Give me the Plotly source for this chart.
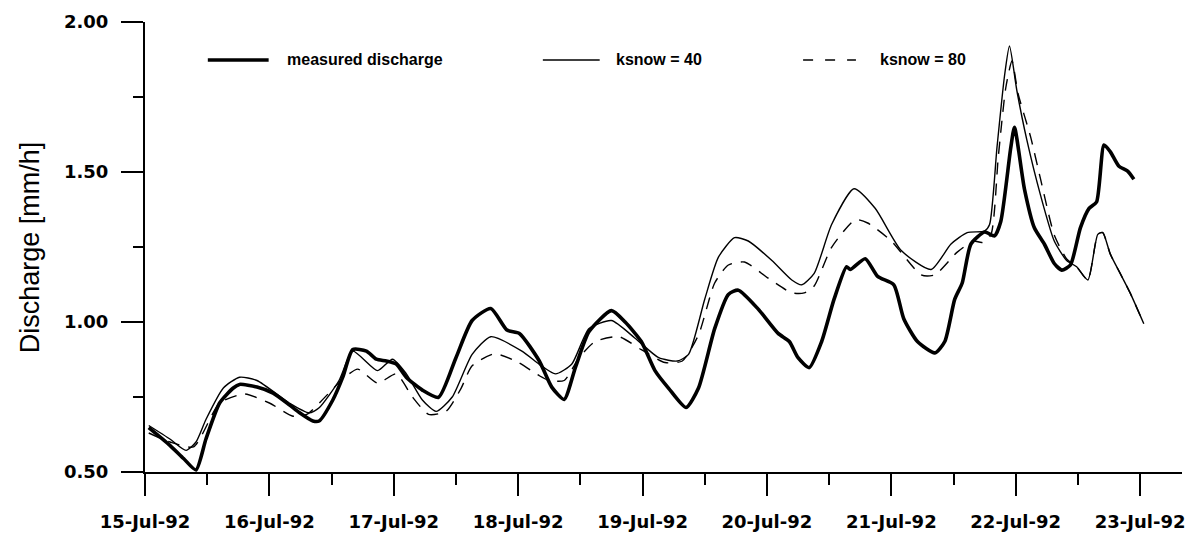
import pandas as pd
import plotly.graph_objects as go

# Discharge series, time in days after 15-Jul-92 00:00, discharge in mm/h
t_measured = [0.03, 0.20, 0.31, 0.41, 0.49, 0.60, 0.71, 0.76, 0.90, 1.03, 1.16, 1.24, 1.35, 1.40,
              1.51, 1.59, 1.67, 1.78, 1.86, 1.94, 2.02, 2.10, 2.23, 2.36, 2.50, 2.63, 2.78, 2.91,
              3.01, 3.17, 3.27, 3.37, 3.46, 3.57, 3.75, 3.86, 3.99, 4.10, 4.21, 4.35, 4.45, 4.58,
              4.69, 4.77, 4.93, 5.09, 5.18, 5.25, 5.34, 5.44, 5.54, 5.64, 5.67, 5.79, 5.89, 6.02,
              6.10, 6.21, 6.35, 6.43, 6.51, 6.57, 6.64, 6.75, 6.83, 6.88, 6.96, 6.99, 7.07, 7.15,
              7.23, 7.31, 7.37, 7.44, 7.52, 7.59, 7.65, 7.71, 7.76, 7.83, 7.90, 7.95]
q_measured = [0.648, 0.589, 0.545, 0.507, 0.610, 0.730, 0.780, 0.792, 0.783, 0.763, 0.724, 0.698,
              0.670, 0.670, 0.740, 0.816, 0.908, 0.903, 0.876, 0.870, 0.860, 0.816, 0.773, 0.749,
              0.881, 1.005, 1.045, 0.973, 0.962, 0.870, 0.783, 0.742, 0.848, 0.968, 1.038, 1.000,
              0.935, 0.838, 0.779, 0.715, 0.780, 0.978, 1.092, 1.106, 1.043, 0.962, 0.935, 0.881,
              0.848, 0.935, 1.076, 1.184, 1.175, 1.211, 1.152, 1.124, 1.011, 0.935, 0.897, 0.935,
              1.076, 1.130, 1.260, 1.300, 1.287, 1.335, 1.580, 1.649, 1.444, 1.314, 1.260, 1.195,
              1.173, 1.190, 1.314, 1.379, 1.400, 1.590, 1.568, 1.519, 1.503, 1.476]

t_ksnow40 = [0.03, 0.20, 0.33, 0.41, 0.49, 0.63, 0.76, 0.90, 1.16, 1.32, 1.40, 1.56, 1.67, 1.87,
             1.99, 2.10, 2.23, 2.34, 2.47, 2.63, 2.78, 3.03, 3.17, 3.30, 3.43, 3.57, 3.75, 3.94,
             4.13, 4.28, 4.37, 4.50, 4.61, 4.74, 4.85, 5.04, 5.20, 5.28, 5.38, 5.52, 5.70, 5.87,
             6.08, 6.32, 6.48, 6.61, 6.75, 6.79, 6.85, 6.91, 6.95, 7.01, 7.09, 7.20, 7.31, 7.41,
             7.49, 7.58, 7.66, 7.70, 7.76, 7.84, 7.92, 8.03]
q_ksnow40 = [0.655, 0.610, 0.572, 0.600, 0.675, 0.780, 0.816, 0.805, 0.730, 0.697, 0.714, 0.805,
             0.903, 0.838, 0.876, 0.828, 0.740, 0.702, 0.750, 0.892, 0.951, 0.903, 0.859, 0.827,
             0.859, 0.978, 1.005, 0.946, 0.881, 0.870, 0.892, 1.076, 1.216, 1.281, 1.270, 1.205,
             1.140, 1.124, 1.162, 1.325, 1.444, 1.379, 1.238, 1.175, 1.260, 1.298, 1.303, 1.325,
             1.584, 1.820, 1.920, 1.770, 1.606, 1.422, 1.270, 1.205, 1.184, 1.140, 1.292, 1.298,
             1.227, 1.162, 1.097, 0.994]

t_ksnow80 = [0.03, 0.20, 0.39, 0.60, 0.80, 1.00, 1.19, 1.30, 1.59, 1.71, 1.87, 2.02, 2.15, 2.28,
             2.42, 2.54, 2.63, 2.81, 2.99, 3.17, 3.25, 3.37, 3.49, 3.62, 3.81, 3.99, 4.18, 4.32,
             4.45, 4.58, 4.69, 4.82, 5.01, 5.20, 5.30, 5.38, 5.52, 5.71, 5.81, 6.00, 6.24, 6.35,
             6.53, 6.66, 6.73, 6.80, 6.86, 6.92, 6.97, 7.02, 7.12, 7.20, 7.31, 7.41, 7.49, 7.58,
             7.66, 7.70, 7.76, 7.84, 7.92, 8.03]
q_ksnow80 = [0.630, 0.600, 0.584, 0.730, 0.760, 0.730, 0.686, 0.692, 0.810, 0.843, 0.796, 0.827,
             0.750, 0.692, 0.702, 0.778, 0.854, 0.894, 0.868, 0.821, 0.805, 0.805, 0.881, 0.935,
             0.951, 0.908, 0.865, 0.870, 0.957, 1.130, 1.190, 1.200, 1.146, 1.097, 1.097, 1.120,
             1.249, 1.341, 1.330, 1.270, 1.157, 1.157, 1.233, 1.270, 1.265, 1.290, 1.550, 1.780,
             1.870, 1.760, 1.617, 1.476, 1.290, 1.210, 1.184, 1.140, 1.292, 1.298, 1.227, 1.162,
             1.097, 0.994]

series_names = ["measured discharge", "ksnow = 40", "ksnow = 80"]

START = pd.Timestamp("1992-07-15")


def to_dates(days):
    return [START + pd.Timedelta(days=d) for d in days]


TICK_FONT = "DejaVu Sans, Verdana, sans-serif"
TITLE_FONT = "Liberation Sans, Arial, sans-serif"
LEGEND_FONT = "Liberation Sans, Arial, sans-serif"
W, H = 1195, 542
M_L, M_R, M_T, M_B = 145, 10, 22, 58
PW, PH = W - M_L - M_R, H - M_T - M_B

styles = [
    dict(color="black", width=3.6),
    dict(color="black", width=1.4),
    dict(color="black", width=1.4, dash="12px,9px"),
]
data = [(t_measured, q_measured), (t_ksnow40, q_ksnow40), (t_ksnow80, q_ksnow80)]

fig = go.Figure()
for name, (t, q), st in zip(series_names, data, styles):
    fig.add_trace(go.Scatter(
        x=to_dates(t), y=q, name=name, mode="lines",
        line=dict(shape="spline", smoothing=0.6, **st),
        showlegend=False,
    ))


def px_x(px):
    return (px - M_L) / PW


def px_y(py):
    return 1 - (py - M_T) / PH


# Legend row: sample line start/end and label start, in pixels
legend_rows = [(208, 269, 285), (544, 601, 615), (805, 858, 880)]
legend_styles = [styles[0], styles[1], dict(color="black", width=1.4, dash="10px,12px")]
legend_y = 61
for name, st, (x0, x1, xt) in zip(series_names, legend_styles, legend_rows):
    fig.add_shape(type="line", xref="paper", yref="paper",
                  x0=px_x(x0), x1=px_x(x1), y0=px_y(legend_y), y1=px_y(legend_y),
                  line=st)
    fig.add_annotation(xref="paper", yref="paper", x=px_x(xt), y=px_y(legend_y),
                       text=name, showarrow=False, xanchor="left", yanchor="middle",
                       font=dict(family=LEGEND_FONT, size=16, color="black", weight="bold"))

# Y axis title
fig.add_annotation(xref="paper", yref="paper", x=px_x(30), y=0.5, text="Discharge [mm/h]",
                   textangle=-90, showarrow=False, xanchor="center", yanchor="middle",
                   font=dict(family=TITLE_FONT, size=27, color="black"))

tickfont = dict(family=TICK_FONT, size=18, color="black", weight="bold")

fig.update_xaxes(
    type="date",
    range=[START, START + pd.Timedelta(days=8.337)],
    tick0=START, dtick=86400000, tickformat="%d-%b-%y",
    ticks="outside", ticklen=22, tickwidth=1.5, tickcolor="black",
    minor=dict(dtick=43200000, ticks="outside", ticklen=11, tickwidth=1.5, tickcolor="black"),
    showline=True, linewidth=2, linecolor="black",
    showgrid=False, zeroline=False, tickfont=tickfont, ticklabelstandoff=10,
)
fig.update_yaxes(
    range=[0.5, 2.0], tick0=0.5, dtick=0.5, tickformat=".2f",
    ticks="outside", ticklen=22, tickwidth=1.5, tickcolor="black",
    minor=dict(dtick=0.25, ticks="outside", ticklen=10, tickwidth=1.5, tickcolor="black"),
    showline=True, linewidth=2, linecolor="black",
    showgrid=False, zeroline=False, tickfont=tickfont, ticklabelstandoff=9,
)

fig.update_layout(
    width=W, height=H,
    margin=dict(l=M_L, r=M_R, t=M_T, b=M_B),
    paper_bgcolor="white", plot_bgcolor="white",
    showlegend=False,
)

fig.write_html("out.html")
